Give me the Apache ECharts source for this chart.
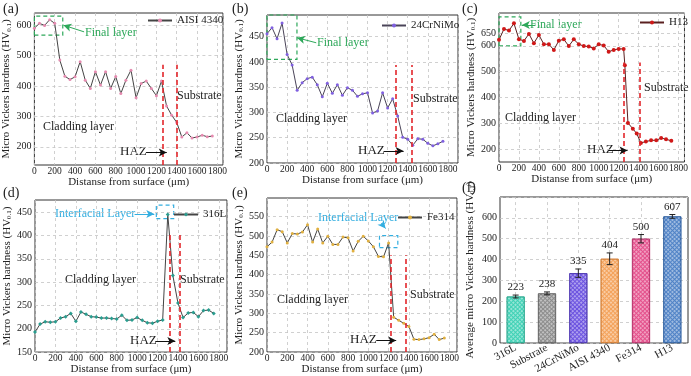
<!DOCTYPE html>
<html>
<head>
<meta charset="utf-8">
<script src="https://cdn.jsdelivr.net/npm/echarts/dist/echarts.min.js"></script>
<style>
  html, body { margin: 0; padding: 0; background: #fff; }
  #chart { width: 691px; height: 376px; }
</style>
</head>
<body>
<div id="chart"></div>
<script>
// ---- data ----
var dist = [0, 50, 100, 150, 200, 250, 300, 350, 400, 450, 500, 550, 600, 650, 700, 750, 800, 850,
            900, 950, 1000, 1050, 1100, 1150, 1200, 1250, 1300, 1350, 1400, 1450, 1500, 1550, 1600, 1650, 1700, 1750];
var hvAISI4340 = [590, 606, 599, 618, 606, 485, 432, 421, 430, 480, 419, 392, 447, 403, 447, 392, 431, 375,
                  419, 452, 361, 408, 416, 392, 368, 416, 334, 304, 280, 232, 246, 229, 232, 238, 233, 235];
var hv24CrNiMo = [456, 468, 446, 477, 415, 394, 344, 359, 367, 370, 355, 331, 358, 338, 355, 334, 349, 344,
                  332, 337, 339, 299, 303, 339, 309, 327, 293, 251, 247, 235, 248, 247, 239, 234, 238, 243];
var distH13 = [0, 50, 100, 150, 200, 250, 300, 350, 400, 450, 500, 550, 600, 650, 700, 750, 800, 850,
               900, 950, 1000, 1050, 1100, 1150, 1200, 1250, 1262, 1293, 1342, 1381, 1423, 1473, 1525, 1577, 1626, 1675, 1728];
var hvH13 = [623, 665, 659, 687, 625, 619, 646, 610, 642, 606, 606, 584, 620, 625, 599, 625, 606, 599,
             597, 590, 606, 601, 577, 584, 588, 588, 525, 301, 279, 260, 224, 229, 234, 234, 243, 238, 232];
var hv316L = [193, 210, 215, 214, 215, 223, 226, 233, 216, 236, 231, 226, 225, 223, 223, 222, 221, 229,
              218, 219, 224, 218, 213, 212, 216, 219, 445, 314, 255, 224, 234, 235, 226, 239, 240, 233];
var hvFe314 = [472, 484, 516, 511, 482, 506, 505, 510, 529, 484, 518, 482, 499, 478, 478, 497, 495, 461,
               486, 499, 487, 472, 447, 446, 482, 290, 282, 274, 266, 233, 232, 234, 237, 246, 232, 236];
var xTicks = [0, 200, 400, 600, 800, 1000, 1200, 1400, 1600, 1800];

var avgNames = ['316L', 'Substrate', '24CrNiMo', 'AISI 4340', 'Fe314', 'H13'];
var avgHV = [223, 238, 335, 404, 500, 607];
var avgErr = [7, 7, 20, 28, 20, 9];

// ---- styles ----
var FONT = 'Liberation Serif';
var GREEN = '#2ea85a', BLUE = '#33aee0', RED = '#e3262b', GRIDC = '#c4c4c4', INK = '#222';
var barColors = ['#3fd1b5', '#8c8c8c', '#6b52e0', '#f4a25a', '#e4508c', '#4f82c6'];
var barEdges  = ['#2aa88f', '#666666', '#4a35b0', '#d07b30', '#b83068', '#2f5f9f'];

// panel layout + annotation positions (data space)
var panels = [
  { name: 'AISI 4340', x: dist, y: hvAISI4340, rect: [34, 13, 189, 152], xMax: 1855,
    yMin: 140, yMax: 640, yStep: 20, yLabels: [200, 300, 400, 500, 600], yGap: 16, xGap: 11,
    line: '#444', mark: '#e58bb0', symbol: 'circle', size: 3,
    box: [[-20, 567], [279, 630]], boxColor: GREEN, boxArrow: [[489, 578], [285, 600]],
    haz: [1262, 1403], hazTop: 470, hazArrow: [[1098, 181], [1302, 181]], legend: [147, 13] },
  { name: '24CrNiMo', x: dist, y: hv24CrNiMo, rect: [267, 15, 191, 148], xMax: 1900,
    yMin: 200, yMax: 493, yStep: 50, yLabels: [200, 250, 300, 350, 400, 450], yGap: 19, xGap: 5,
    line: '#4a4458', mark: '#8060e0', symbol: 'circle', size: 3,
    box: [[-20, 405], [298, 493]], boxColor: GREEN, boxArrow: [[490, 438], [298, 448]],
    haz: [1279, 1435], hazTop: 394, hazArrow: [[1160, 224], [1359, 224]], legend: [381, 18] },
  { name: 'H13', x: distH13, y: hvH13, rect: [499, 13, 189, 149], xMax: 1860,
    yMin: 150, yMax: 727, yStep: 50, yLabels: [200, 300, 400, 500, 600, 650], yGap: 21, xGap: 7,
    line: '#5a2020', mark: '#d01818', symbol: 'circle', size: 4,
    box: [[-5, 600], [219, 712]], boxColor: GREEN, boxArrow: [[366, 681], [229, 681]],
    haz: [1250, 1407], hazTop: 535, hazArrow: [[1103, 195], [1289, 195]], legend: [639, 15] },
  { name: '316L', x: dist, y: hv316L, rect: [35, 200, 192, 153], xMax: 1880,
    yMin: 150, yMax: 476, yStep: 50, yLabels: [150, 200, 250, 300, 350, 400, 450], yGap: 17, xGap: 9,
    line: '#444', mark: '#2a9d8f', symbol: 'diamond', size: 4,
    box: [[1188, 436], [1358, 465]], boxColor: BLUE, boxArrow: [[975, 446], [1168, 446]],
    haz: [1315, 1414], hazTop: 407, hazArrow: [[1178, 174], [1374, 174]], legend: [173, 207] },
  { name: 'Fe314', x: dist, y: hvFe314, rect: [267, 198, 190, 154], xMax: 1875,
    yMin: 200, yMax: 598, yStep: 50, yLabels: [200, 250, 300, 350, 400, 450, 500, 550], yGap: 19, xGap: 9,
    line: '#444', mark: '#e0b040', symbol: 'circle', size: 3,
    box: [[1110, 470], [1291, 501]], boxColor: BLUE, boxArrow: [[1127, 533], [1170, 519]],
    haz: [1222, 1367], hazTop: 450, hazArrow: [[1078, 230], [1275, 230]], legend: [397, 210] }
];

var notes = [
  ['(a)', 3, 9, 14, INK], ['(b)', 232, 9, 14, INK], ['(c)', 462, 9, 14, INK],
  ['(d)', 3, 193, 14, INK], ['(e)', 232, 193, 14, INK], ['(f)', 462, 188, 14, INK],
  ['Final layer', 85, 33, 12, GREEN], ['Cladding layer', 43, 127, 12, INK], ['Substrate', 177, 96, 12, INK], ['HAZ', 120, 152, 13, INK],
  ['Final layer', 317, 43, 12, GREEN], ['Cladding layer', 276, 119, 12, INK], ['Substrate', 413, 99, 12, INK], ['HAZ', 358, 151, 13, INK],
  ['Final layer', 530, 25, 12, GREEN], ['Cladding layer', 505, 118, 12, INK], ['Substrate', 644, 88, 12, INK], ['HAZ', 587, 150, 13, INK],
  ['Interfacial Layer', 55, 214, 12, BLUE], ['Cladding layer', 65, 280, 12, INK], ['Substrate', 180, 280, 12, INK], ['HAZ', 130, 341, 13, INK],
  ['Interfacial Layer', 318, 218, 12, BLUE], ['Cladding layer', 277, 300, 12, INK], ['Substrate', 410, 295, 12, INK], ['HAZ', 350, 340, 13, INK]
];

var grids = [], xAxes = [], yAxes = [], series = [], legends = [];
var dashed = { color: GRIDC, type: [3, 3], width: 0.8 };
var subRich = { s: { fontFamily: FONT, fontSize: 7, verticalAlign: 'bottom', padding: [5, 0, 0, 0] } };

function arrow(a, b, color) {
  return [
    { coord: a, symbol: 'none', lineStyle: { color: color, type: 'solid', width: 1 } },
    { coord: b, symbol: 'arrow', symbolSize: [6, 8] }
  ];
}

panels.forEach(function (p, i) {
  grids.push({ left: p.rect[0], top: p.rect[1], width: p.rect[2], height: p.rect[3],
               show: true, borderColor: '#333', borderWidth: 1, backgroundColor: 'transparent' });
  xAxes.push({
    gridIndex: i, type: 'value', min: 0, max: p.xMax, interval: 200,
    name: 'Distanse from surface (μm)', nameLocation: 'middle', nameGap: p.xGap,
    nameTextStyle: { fontFamily: FONT, fontSize: 11, color: INK },
    axisLine: { show: false }, axisTick: { show: false },
    axisLabel: { fontFamily: FONT, fontSize: 9.5, color: INK, margin: 1,
                 formatter: function (v) { return xTicks.indexOf(v) >= 0 ? String(v) : ''; } },
    splitLine: { show: true, lineStyle: dashed }
  });
  yAxes.push({
    gridIndex: i, type: 'value', min: p.yMin, max: p.yMax, interval: p.yStep,
    name: 'Micro Vickers hardness (HV{s|0.1})', nameLocation: 'middle', nameGap: p.yGap,
    nameTextStyle: { fontFamily: FONT, fontSize: 11, color: INK, rich: subRich },
    axisLine: { show: false }, axisTick: { show: false },
    axisLabel: { fontFamily: FONT, fontSize: 10, color: INK, margin: 3,
                 formatter: function (v) { return p.yLabels.indexOf(v) >= 0 ? String(v) : ''; } },
    splitLine: { show: false }
  });
  // horizontal grid lines only at labelled values
  series.push({
    type: 'line', xAxisIndex: i, yAxisIndex: i, data: [], silent: true, z: 1,
    markLine: { silent: true, symbol: 'none', z: 1, label: { show: false }, lineStyle: dashed,
                data: p.yLabels.map(function (v) { return { yAxis: v }; }) }
  });
  var ml = [];
  p.haz.forEach(function (h) {
    ml.push([{ coord: [h, p.yMin], lineStyle: { color: RED, type: [5, 3], width: 1.6 } }, { coord: [h, p.hazTop] }]);
  });
  ml.push(arrow(p.hazArrow[0], p.hazArrow[1], '#111'));
  ml.push(arrow(p.boxArrow[0], p.boxArrow[1], p.boxColor));
  series.push({
    name: p.name, type: 'line', xAxisIndex: i, yAxisIndex: i, z: 3,
    data: p.x.map(function (x, k) { return [x, p.y[k]]; }),
    symbol: p.symbol, symbolSize: p.size, showSymbol: true,
    lineStyle: { color: p.line, width: 1 }, itemStyle: { color: p.mark },
    markArea: { silent: true,
                itemStyle: { color: 'rgba(0,0,0,0)', borderColor: p.boxColor, borderWidth: 1.2, borderType: [4, 3] },
                data: [[{ coord: p.box[0] }, { coord: p.box[1] }]] },
    markLine: { silent: true, symbol: 'none', label: { show: false }, data: ml }
  });
  legends.push({ left: p.legend[0], top: p.legend[1] + 2, data: [p.name], padding: 0,
                 itemWidth: 24, itemHeight: 5, itemGap: 2,
                 textStyle: { fontFamily: FONT, fontSize: 11, color: INK } });
});

// ---- panel (f): average hardness bars ----
grids.push({ left: 500, top: 197, width: 188, height: 151, show: true, borderColor: '#333', borderWidth: 1 });
xAxes.push({
  gridIndex: 5, type: 'category', data: avgNames,
  axisLine: { show: false }, axisTick: { show: false }, splitLine: { show: false },
  axisLabel: { interval: 0, rotate: 28, fontFamily: FONT, fontSize: 11, color: INK, margin: 4 }
});
yAxes.push({
  gridIndex: 5, type: 'value', min: 0, max: 700, interval: 100,
  name: 'Average micro Vickers hardness (HV{s|0.1})', nameLocation: 'middle', nameGap: 24,
  nameTextStyle: { fontFamily: FONT, fontSize: 11, color: INK, rich: subRich },
  axisLine: { show: false }, axisTick: { show: false },
  axisLabel: { fontFamily: FONT, fontSize: 10, color: INK, margin: 3,
               formatter: function (v) { return v <= 600 ? String(v) : ''; } },
  splitLine: { show: true, lineStyle: dashed }
});
series.push({
  type: 'line', xAxisIndex: 5, yAxisIndex: 5, data: [], silent: true, z: 1,
  markLine: { silent: true, symbol: 'none', z: 1, label: { show: false }, lineStyle: dashed,
              data: avgNames.map(function (n) { return { xAxis: n }; }) }
});
series.push({
  type: 'bar', xAxisIndex: 5, yAxisIndex: 5, barWidth: 18, z: 2,
  data: avgHV.map(function (v, k) {
    return { value: v, itemStyle: { color: barColors[k], borderColor: barEdges[k], borderWidth: 0.8,
      decal: { symbol: 'rect', symbolSize: 1, dashArrayX: [2, 1], dashArrayY: [2, 1],
               rotation: Math.PI / 4, color: 'rgba(255,255,255,0.45)' } } };
  })
});
series.push({
  type: 'custom', xAxisIndex: 5, yAxisIndex: 5, z: 4,
  data: avgHV.map(function (v, k) { return [k, v, avgErr[k]]; }),
  renderItem: function (params, api) {
    var x = api.value(0), m = api.value(1), e = api.value(2);
    var hi = api.coord([x, m + e]), lo = api.coord([x, m - e]);
    var w = 3, st = { stroke: '#222', lineWidth: 1 };
    return { type: 'group', children: [
      { type: 'line', shape: { x1: hi[0], y1: hi[1], x2: lo[0], y2: lo[1] }, style: st },
      { type: 'line', shape: { x1: hi[0] - w, y1: hi[1], x2: hi[0] + w, y2: hi[1] }, style: st },
      { type: 'line', shape: { x1: lo[0] - w, y1: lo[1], x2: lo[0] + w, y2: lo[1] }, style: st },
      { type: 'text', style: { text: String(m), x: hi[0], y: hi[1] - 2, align: 'center', verticalAlign: 'bottom',
                               font: '11px "' + FONT + '"', fill: INK } }
    ] };
  }
});

var graphics = notes.map(function (n) {
  return { type: 'text', x: n[1], y: n[2], silent: true,
           style: { text: n[0], fill: n[4], font: n[3] + 'px "' + FONT + '"', verticalAlign: 'middle' } };
});

var chart = echarts.init(document.getElementById('chart'));
chart.setOption({
  animation: false,
  backgroundColor: '#fff',
  textStyle: { fontFamily: FONT },
  grid: grids, xAxis: xAxes, yAxis: yAxes, legend: legends,
  series: series, graphic: graphics
});
</script>
</body>
</html>
